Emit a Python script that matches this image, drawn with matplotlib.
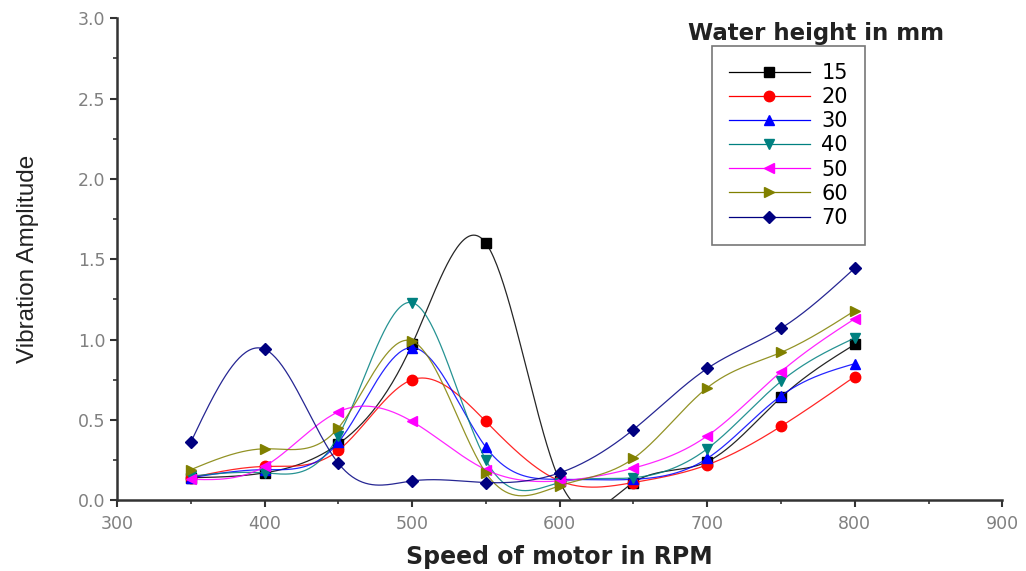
import numpy as np
import matplotlib
matplotlib.use("Agg")
import matplotlib.pyplot as plt

# data
speed = [350, 400, 450, 500, 550, 600, 650, 700, 750, 800]
heights = ["15", "20", "30", "40", "50", "60", "70"]
amp_15 = [0.14, 0.17, 0.35, 0.97, 1.60, 0.12, 0.11, 0.24, 0.64, 0.97]
amp_20 = [0.14, 0.21, 0.31, 0.75, 0.49, 0.12, 0.11, 0.22, 0.46, 0.77]
amp_30 = [0.14, 0.19, 0.36, 0.95, 0.33, 0.13, 0.13, 0.26, 0.65, 0.85]
amp_40 = [0.15, 0.17, 0.40, 1.23, 0.25, 0.11, 0.14, 0.32, 0.74, 1.01]
amp_50 = [0.13, 0.21, 0.55, 0.49, 0.19, 0.12, 0.20, 0.40, 0.80, 1.13]
amp_60 = [0.19, 0.32, 0.45, 0.99, 0.17, 0.09, 0.26, 0.70, 0.92, 1.18]
amp_70 = [0.36, 0.94, 0.23, 0.12, 0.11, 0.17, 0.44, 0.82, 1.07, 1.445]

colors = ["black", "red", "blue", "#008080", "#ff00ff", "#808000", "#000080"]
markers = ["s", "o", "^", "v", "<", ">", "D"]


def natural_spline(x, y, n=400):
    """自然3次スプラインで点を滑らかに結ぶ（線の描き方だけ）。"""
    x = np.asarray(x, float)
    y = np.asarray(y, float)
    h = np.diff(x)
    m = len(x)
    A = np.zeros((m, m))
    r = np.zeros(m)
    A[0, 0] = 1.0
    A[-1, -1] = 1.0
    for i in range(1, m - 1):
        A[i, i - 1] = h[i - 1]
        A[i, i] = 2 * (h[i - 1] + h[i])
        A[i, i + 1] = h[i]
        r[i] = 3 * ((y[i + 1] - y[i]) / h[i] - (y[i] - y[i - 1]) / h[i - 1])
    c = np.linalg.solve(A, r)
    b = (y[1:] - y[:-1]) / h - h * (2 * c[:-1] + c[1:]) / 3
    d = (c[1:] - c[:-1]) / (3 * h)
    xs = np.linspace(x[0], x[-1], n)
    idx = np.clip(np.searchsorted(x, xs) - 1, 0, m - 2)
    dx = xs - x[idx]
    ys = y[idx] + b[idx] * dx + c[idx] * dx ** 2 + d[idx] * dx ** 3
    return xs, ys


plt.rcParams["font.family"] = ["DejaVu Sans"]

fig = plt.figure(figsize=(10.26, 5.71), dpi=100)
ax = fig.add_axes([0.114, 0.124, 0.863, 0.844])

series = [amp_15, amp_20, amp_30, amp_40, amp_50, amp_60, amp_70]
handles = []
for label, vals, col, mk in zip(heights, series, colors, markers):
    ms = 7.5 if mk != "D" else 6.5
    xs, ys = natural_spline(speed, vals)
    ax.plot(xs, ys, color=col, lw=0.9, alpha=0.85)
    ax.plot(speed, vals, linestyle="none", marker=mk, color=col, markersize=ms)
    h, = ax.plot([], [], color=col, lw=0.9, marker=mk, markersize=ms,
                 label=label)
    handles.append(h)

ax.set_xlim(300, 900)
ax.set_ylim(0, 3.0)
ax.set_xticks(np.arange(300, 901, 100))
ax.set_xticks(np.arange(350, 900, 100), minor=True)
ax.set_yticks(np.arange(0, 3.01, 0.5))
ax.set_yticks(np.arange(0.25, 3.0, 0.5), minor=True)
ax.set_yticklabels([f"{v:.1f}" for v in np.arange(0, 3.01, 0.5)])

for s in ["top", "right"]:
    ax.spines[s].set_visible(False)
for s in ["left", "bottom"]:
    ax.spines[s].set_linewidth(1.8)
    ax.spines[s].set_color("#333333")

ax.tick_params(axis="both", which="major", direction="out", length=5,
               width=1.5, color="#333333", labelsize=12.5, labelcolor="#808080")
ax.tick_params(axis="x", which="major", pad=6)
ax.tick_params(axis="both", which="minor", direction="out", length=3,
               width=1.2, color="#333333")

ax.set_xlabel("Speed of motor in RPM", fontsize=17, fontweight="bold",
              color="#222222", labelpad=8)
ax.set_ylabel("Vibration Amplitude", fontsize=17.5, color="#222222",
              family=["Liberation Sans Narrow", "Liberation Sans"], labelpad=28)

leg = ax.legend(handles=handles, loc="upper left",
                bbox_to_anchor=(0.672, 0.942), borderaxespad=0,
                fontsize=15, frameon=True, fancybox=False,
                edgecolor="#555555", handlelength=3.9, labelspacing=0.2,
                borderpad=0.8, handletextpad=0.55)
leg.get_frame().set_linewidth(1.2)
ax.text(0.789, 0.968, "Water height in mm", transform=ax.transAxes,
        ha="center", va="center", fontsize=16.5, fontweight="bold",
        color="#222222")

fig.savefig("out.png", dpi=100)
